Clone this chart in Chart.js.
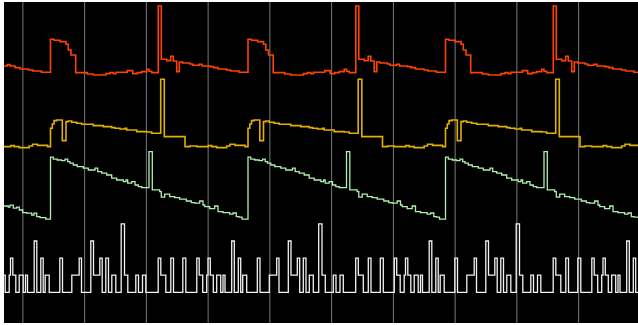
<!DOCTYPE html>
<html><head><meta charset="utf-8">
<script src="https://cdn.jsdelivr.net/npm/chart.js@4.4.1/dist/chart.umd.min.js"></script>
<style>
html,body{margin:0;padding:0;background:#fff;width:638px;height:325px;overflow:hidden}
#wrap{position:absolute;left:4px;top:2px;width:634px;height:321px;background:#000}
canvas{display:block}
</style></head><body>
<div id="wrap"><canvas id="c" width="634" height="321"></canvas></div>
<script>
// time axis in frames (~16 ms each); vertical grid every ~61.75 frames (1 s)
const frameMin = 0, frameMax = 634;
const gridTimes = [18.875, 80.625, 142.375, 204.125, 265.875, 327.625, 389.375, 451.125, 512.875, 574.625];

// [time, value] pairs (step series)
const seriesOrange = [[0,128.5],[3.3,129.2],[6,128.5],[11,127.7],[16,127],[24.5,126.5],[29,126],[37.5,125.4],
[46.5,141.9],[50,141.4],[56,140.7],[62,139.4],[64.3,136.5],[67,134],[71.7,125.2],[83.3,124.5],[89.3,124],[102,124.7],[106,125.2],[109.3,124.7],[112,125.4],[123.3,126.2],[128.7,124.7],[133.3,125.2],[137.7,125.7],[142.7,126.9],[145,125.9],[147.7,125.2],[154.3,158.5],[157.3,131.9],[162.7,131.2],[166.7,133.4],[169.3,131],[172.7,125.7],[175.3,130.5],[178.7,130],[186,129.5],[188.7,128.9],[195,129.3],[198,128.5],[206,128.2],[209.5,127.7],[214,127],[222.5,126.5],[226.5,126],[235,125.4],
[244,141.9],[247.5,141.4],[253.5,140.7],[259.5,139.4],[261.8,136.5],[264.5,134],[269.2,125.2],[280.8,124.5],[286.8,124],[299.5,124.7],[303.5,125.2],[306.8,124.7],[309.5,125.4],[320.8,126.2],[326.2,124.7],[330.8,125.2],[335.2,125.7],[340.2,126.9],[342.5,125.9],[345.2,125.2],[351.8,158.5],[354.8,131.9],[360.2,131.2],[364.2,133.4],[366.8,131],[370.2,125.7],[372.8,130.5],[376.2,130],[383.5,129.5],[386.2,128.9],[392.5,129.3],[395.5,128.5],[403.5,128.2],[407,127.7],[411.5,127],[420,126.5],[424,126],[432.5,125.4],
[441.5,141.9],[445,141.4],[451,140.7],[457,139.4],[459.3,136.5],[462,134],[466.7,125.2],[478.3,124.5],[484.3,124],[497,124.7],[501,125.2],[504.3,124.7],[507,125.4],[518.3,126.2],[523.7,124.7],[528.3,125.2],[532.7,125.7],[537.7,126.9],[540,125.9],[542.7,125.2],[549.3,158.5],[552.3,131.9],[557.7,131.2],[561.7,133.4],[564.3,131],[567.7,125.7],[570.3,130.5],[573.7,130],[581,129.5],[583.7,128.9],[590,129.3],[593,128.5],[601,128.2],[604.5,127.7],[609,127],[617.5,126.5],[621.5,126],[630,125.4],[634,125.4]];

const seriesYellow = [[0,88.2],[6.8,88.7],[10.2,88.2],[15.2,87.7],[25.2,88.5],[28.5,89.4],[33.5,88.8],[43.5,88.2],
[46.5,97.4],[48.3,99.5],[50,101.2],[52.7,101.5],[58.3,91.2],[62,100.7],[64.3,101],[67.7,100.4],[72.7,99.9],[77.7,99.4],[89.3,98.7],[99.3,98.2],[107.7,97.7],[111,97.4],[116,97],[121,97.4],[122.7,96.5],[132.7,95.7],[142.7,95.5],[147.7,94.9],[156.7,121.9],[160.3,93.2],[181,88.2],[186,88.5],[192.7,88.2],[204.3,88.7],[207.7,88.2],[212.7,87.7],[222.7,88.5],[226,89.4],[231,88.8],[241,88.2],
[244,97.4],[245.8,99.5],[247.5,101.2],[250.2,101.5],[255.8,91.2],[259.5,100.7],[261.8,101],[265.2,100.4],[270.2,99.9],[275.2,99.4],[286.8,98.7],[296.8,98.2],[305.2,97.7],[308.5,97.4],[313.5,97],[318.5,97.4],[320.2,96.5],[330.2,95.7],[340.2,95.5],[345.2,94.9],[354.2,121.9],[357.8,93.2],[378.5,88.2],[383.5,88.5],[390.2,88.2],[401.8,88.7],[405.2,88.2],[410.2,87.7],[420.2,88.5],[423.5,89.4],[428.5,88.8],[438.5,88.2],
[441.5,97.4],[443.3,99.5],[445,101.2],[447.7,101.5],[453.3,91.2],[457,100.7],[459.3,101],[462.7,100.4],[467.7,99.9],[472.7,99.4],[484.3,98.7],[494.3,98.2],[502.7,97.7],[506,97.4],[511,97],[516,97.4],[517.7,96.5],[527.7,95.7],[537.7,95.5],[542.7,94.9],[551.7,121.9],[555.3,93.2],[576,88.2],[581,88.5],[587.7,88.2],[599.3,88.7],[602.7,88.2],[607.7,87.7],[617.7,88.5],[621,89.4],[626,88.8],[634,88.8]];

const seriesGreen = [[0,58.5],[4.3,57.9],[6,58.9],[9.3,57.4],[12.7,57.9],[15.3,56.5],[18.7,55.2],[22.7,54.9],[27.7,54],[30,54.9],[32.7,53.2],[36,52.7],[41.7,51.9],
[46.5,82.9],[49.3,81.9],[53.3,81.5],[57.7,81.2],[61,81.9],[63.7,80.7],[66,79.9],[69.3,79],[73.3,78.2],[79.3,77.4],[84.3,76.5],[91,77.4],[93.7,75.7],[97.7,74.9],[102.7,74],[107.7,72.4],[112.7,71.5],[119.3,70.7],[122,71.5],[123.7,69.9],[127.7,70.7],[131,69],[134.3,68.2],[137.7,67.7],[145,85.7],[148.3,66.6],[155.7,65.7],[157.3,62.9],[160.7,64.4],[165.7,63.2],[170.7,62.7],[175.7,61.9],[182.3,61],[187.3,60.2],[190.7,59.9],[195.7,61],[199,59],[200.7,58.2],[205.7,57.2],[210.7,58.5],[214,55.7],[219,55.2],[225.7,54.4],[229,55],[232.3,53.2],[235,52.9],[238,51.9],
[244,82.9],[246.8,81.9],[250.8,81.5],[255.2,81.2],[258.5,81.9],[261.2,80.7],[263.5,79.9],[266.8,79],[270.8,78.2],[276.8,77.4],[281.8,76.5],[288.5,77.4],[291.2,75.7],[295.2,74.9],[300.2,74],[305.2,72.4],[310.2,71.5],[316.8,70.7],[319.5,71.5],[321.2,69.9],[325.2,70.7],[328.5,69],[331.8,68.2],[335.2,67.7],[342.5,85.7],[345.8,66.6],[353.2,65.7],[354.8,62.9],[358.2,64.4],[363.2,63.2],[368.2,62.7],[373.2,61.9],[379.8,61],[384.8,60.2],[388.2,59.9],[393.2,61],[396.5,59],[398.2,58.2],[403.2,57.2],[408.2,58.5],[411.5,55.7],[416.5,55.2],[423.2,54.4],[426.5,55],[429.8,53.2],[432.5,52.9],[435.5,51.9],
[441.5,82.9],[444.3,81.9],[448.3,81.5],[452.7,81.2],[456,81.9],[458.7,80.7],[461,79.9],[464.3,79],[468.3,78.2],[474.3,77.4],[479.3,76.5],[486,77.4],[488.7,75.7],[492.7,74.9],[497.7,74],[502.7,72.4],[507.7,71.5],[514.3,70.7],[517,71.5],[518.7,69.9],[522.7,70.7],[526,69],[529.3,68.2],[532.7,67.7],[540,85.7],[543.3,66.6],[550.7,65.7],[552.3,62.9],[555.7,64.4],[560.7,63.2],[565.7,62.7],[570.7,61.9],[577.3,61],[582.3,60.2],[585.7,59.9],[590.7,61],[594,59],[595.7,58.2],[600.7,57.2],[605.7,58.5],[609,55.7],[614,55.2],[620.7,54.4],[624,55],[627.3,53.2],[630,52.9],[634,52.9]];

// count series, levels 0..4
const seriesWhite = [[0,1],[1.2,0],[5.2,1],[6.5,2],[8.8,1],[11.8,0],[15.2,1],[19.2,0],[21.5,1],[23.5,0],[30.2,3],[32.8,0],[36.8,2],[39.2,0],[41.2,1],[45.2,0],[55.8,2],[58.5,0],[67.8,1],[75.2,2],[77.5,0],[86.8,3],[89.5,1],[95.8,2],[98.2,0],[101.8,2],[104.5,0],[107.8,1],[111.8,0],[117.2,4],[120.5,1],[123.8,0],[131.8,1],[134.5,0],[138.5,1],[141.8,0],[154.2,2],[156.8,1],[161.8,0],[166.8,2],[169.5,0],[178.8,2],[181.8,0],[192.8,2],[195.2,1],
[196,1],[198.7,0],[202.7,1],[204,2],[206.3,1],[209.3,0],[212.7,1],[216.7,0],[219,1],[221,0],[227.7,3],[230.3,0],[234.3,2],[236.7,0],[238.7,1],[242.7,0],[253.3,2],[256,0],[265.3,1],[272.7,2],[275,0],[284.3,3],[287,1],[293.3,2],[295.7,0],[299.3,2],[302,0],[305.3,1],[309.3,0],[314.7,4],[318,1],[321.3,0],[329.3,1],[332,0],[336,1],[339.3,0],[351.7,2],[354.3,1],[359.3,0],[364.3,2],[367,0],[376.3,2],[379.3,0],[390.3,2],[392.7,1],
[393.5,1],[396.2,0],[400.2,1],[401.5,2],[403.8,1],[406.8,0],[410.2,1],[414.2,0],[416.5,1],[418.5,0],[425.2,3],[427.8,0],[431.8,2],[434.2,0],[436.2,1],[440.2,0],[450.8,2],[453.5,0],[462.8,1],[470.2,2],[472.5,0],[481.8,3],[484.5,1],[490.8,2],[493.2,0],[496.8,2],[499.5,0],[502.8,1],[506.8,0],[512.2,4],[515.5,1],[518.8,0],[526.8,1],[529.5,0],[533.5,1],[536.8,0],[549.2,2],[551.8,1],[556.8,0],[561.8,2],[564.5,0],[573.8,2],[576.8,0],[587.8,2],[590.2,1],
[591,1],[593.7,0],[597.7,1],[599,2],[601.3,1],[604.3,0],[607.7,1],[611.7,0],[614,1],[616,0],[622.7,3],[625.3,0],[629.3,2],[631.7,0],[634,0]];

const toXY = a => a.map(p => ({x: p[0], y: p[1]}));

const vGrid = {
  id: 'vGrid',
  beforeDatasetsDraw(chart) {
    const {ctx, chartArea, scales} = chart;
    ctx.save();
    ctx.strokeStyle = '#7a7a7a';
    ctx.lineWidth = 1;
    gridTimes.forEach(t => {
      const px = scales.x.getPixelForValue(t);
      ctx.beginPath();
      ctx.moveTo(px, chartArea.top);
      ctx.lineTo(px, chartArea.bottom);
      ctx.stroke();
    });
    ctx.restore();
  }
};

const common = {stepped: true, pointRadius: 0, borderJoinStyle: 'miter', tension: 0, fill: false};

new Chart(document.getElementById('c'), {
  type: 'line',
  data: {
    datasets: [
      Object.assign({label: 'orange', data: toXY(seriesOrange), borderColor: '#ff4200', borderWidth: 1.6, yAxisID: 'y'}, common),
      Object.assign({label: 'yellow', data: toXY(seriesYellow), borderColor: '#e2b000', borderWidth: 1.6, yAxisID: 'y'}, common),
      Object.assign({label: 'green', data: toXY(seriesGreen), borderColor: '#b0f0b0', borderWidth: 1.3, yAxisID: 'y'}, common),
      Object.assign({label: 'white', data: toXY(seriesWhite), borderColor: '#f2f2f2', borderWidth: 1.3, yAxisID: 'y2'}, common)
    ]
  },
  options: {
    responsive: false,
    animation: false,
    devicePixelRatio: 1,
    layout: {padding: 0},
    plugins: {legend: {display: false}, tooltip: {enabled: false}},
    scales: {
      x: {type: 'linear', min: frameMin, max: frameMax, display: false},
      y: {min: 0, max: 160.5, display: false},
      y2: {min: -1.795, max: 16.977, display: false}
    }
  },
  plugins: [vGrid]
});
</script>
</body></html>
